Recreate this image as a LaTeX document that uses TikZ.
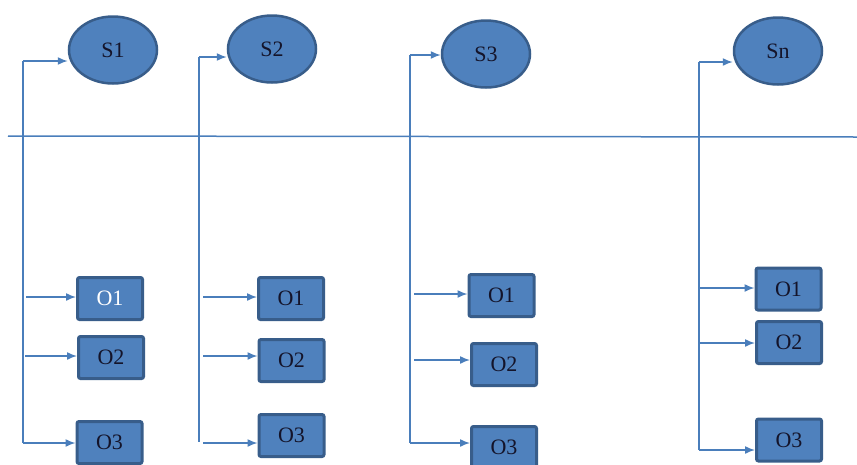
\documentclass[tikz,border=0pt]{standalone}
\usepackage{fontspec}
\setmainfont{Liberation Serif}
\usetikzlibrary{shapes.geometric,arrows.meta}
\definecolor{fillblue}{HTML}{4F81BD}
\definecolor{edgeblue}{HTML}{385D8A}
\definecolor{wireblue}{HTML}{4A7EBB}
\definecolor{txt}{HTML}{14142A}
\tikzset{
  snode/.style={ellipse, draw=edgeblue, fill=fillblue, line width=2.5pt, inner sep=0pt,
    minimum width=88pt, minimum height=67pt, text=txt, font=\fontsize{22}{26}\selectfont},
  obox/.style={rectangle, rounded corners=2pt, draw=edgeblue, fill=fillblue, line width=3pt, inner sep=0pt,
    minimum width=65pt, minimum height=42pt, text=txt, font=\fontsize{22}{26}\selectfont},
  wire/.style={draw=wireblue, line width=1.5pt},
  arr/.style={wire, -{Latex[length=10pt,width=8pt]}}
}
\begin{document}
\begin{tikzpicture}[x=1pt,y=-1pt]
\useasboundingbox (0,0) rectangle (857,464);
% separator
\coordinate (hl) at (8,136);
\coordinate (hr) at (857,137);
\draw[wire] (hl) -- (hr);

% S nodes
\node[snode] (S1) at (113,50) {S1};
\node[snode] (S2) at (272,49) {S2};
\node[snode] (S3) at (486,54) {S3};
\node[snode] (Sn) at (778,51) {Sn};

% O boxes column 1
\node[obox, text=white] (a1) at (110,298.5) {O1};
\node[obox] (a2) at (111,357.5) {O2};
\node[obox] (a3) at (109.5,442.5) {O3};
% column 2
\node[obox] (b1) at (291,298.5) {O1};
\node[obox] (b2) at (291.5,360.5) {O2};
\node[obox] (b3) at (291.5,435.5) {O3};
% column 3
\node[obox] (c1) at (501.5,295.5) {O1};
\node[obox] (c2) at (504,364.5) {O2};
\node[obox] (c3) at (504,447.5) {O3};
% column 4
\node[obox] (d1) at (788.5,289) {O1};
\node[obox] (d2) at (789,342.5) {O2};
\node[obox] (d3) at (789,440) {O3};

% column 1 wiring
\coordinate (t1) at (23,61);
\coordinate (e1) at (23,443);
\coordinate (p11) at (26,297);
\coordinate (p12) at (25,356);
\draw[wire] (t1) -- (e1);
\draw[arr] (t1) -- (t1 -| S1.west);
\draw[arr] (p11) -- (p11 -| a1.west);
\draw[arr] (p12) -- (p12 -| a2.west);
\draw[arr] (e1) -- (e1 -| a3.west);

% column 2 wiring
\coordinate (t2) at (199,57);
\coordinate (e2) at (199,442);
\coordinate (p21) at (203,297);
\coordinate (p22) at (203,356);
\coordinate (p23) at (203,443);
\draw[wire] (t2) -- (e2);
\draw[arr] (t2) -- (t2 -| S2.west);
\draw[arr] (p21) -- (p21 -| b1.west);
\draw[arr] (p22) -- (p22 -| b2.west);
\draw[arr] (p23) -- (p23 -| b3.west);

% column 3 wiring
\coordinate (t3) at (410,55);
\coordinate (e3) at (410,443);
\coordinate (p31) at (414,294);
\coordinate (p32) at (414,360);
\draw[wire] (t3) -- (e3);
\draw[arr] (t3) -- (t3 -| S3.west);
\draw[arr] (p31) -- (p31 -| c1.west);
\draw[arr] (p32) -- (p32 -| c2.west);
\draw[arr] (e3) -- (e3 -| c3.west);

% column 4 wiring
\coordinate (t4) at (699,62);
\coordinate (e4) at (699,450);
\coordinate (p41) at (699,288);
\coordinate (p42) at (699,343);
\draw[wire] (t4) -- (e4);
\draw[arr] (t4) -- (t4 -| Sn.west);
\draw[arr] (p41) -- (p41 -| d1.west);
\draw[arr] (p42) -- (p42 -| d2.west);
\draw[arr] (e4) -- (e4 -| d3.west);
\end{tikzpicture}
\end{document}
